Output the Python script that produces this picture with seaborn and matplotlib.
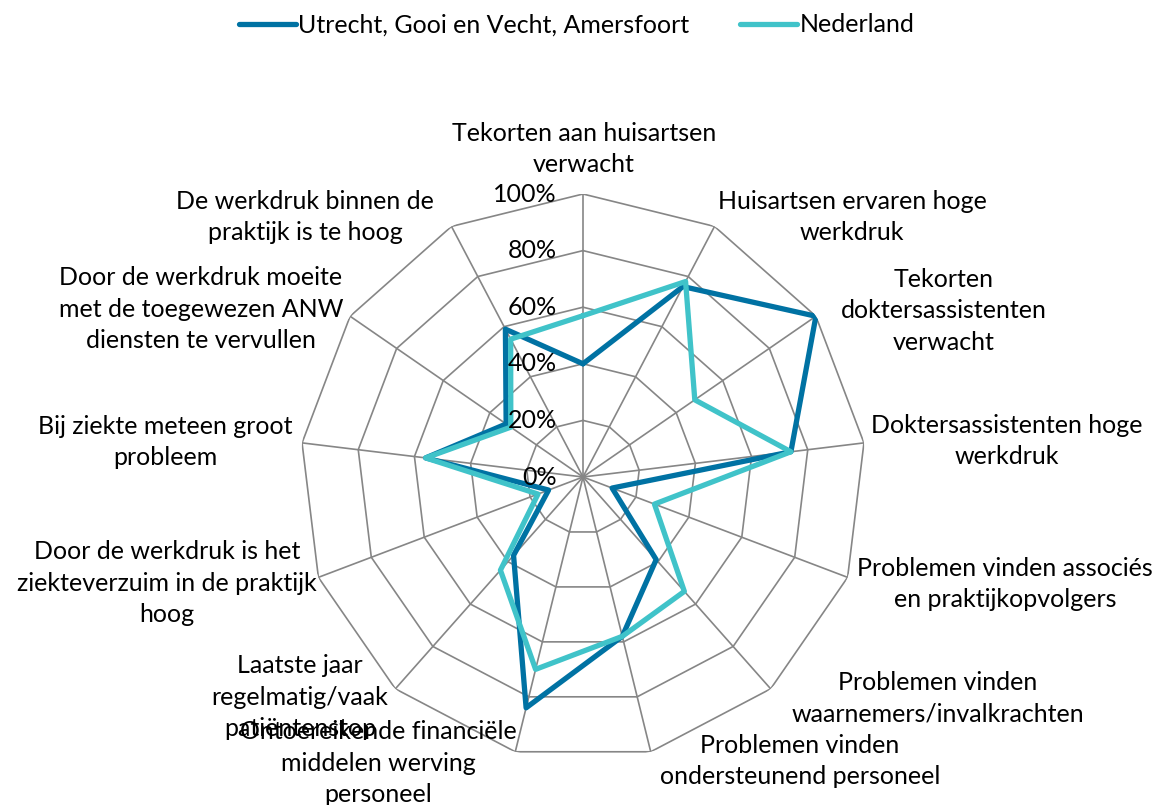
import numpy as np
import pandas as pd
import matplotlib
matplotlib.use("Agg")
import matplotlib.pyplot as plt
import matplotlib.transforms as mtransforms
import seaborn as sns

categories = [
    "Tekorten aan huisartsen\nverwacht",
    "Huisartsen ervaren hoge\nwerkdruk",
    "Tekorten\ndoktersassistenten\nverwacht",
    "Doktersassistenten hoge\nwerkdruk",
    "Problemen vinden associés\nen praktijkopvolgers",
    "Problemen vinden\nwaarnemers/invalkrachten",
    "Problemen vinden\nondersteunend personeel",
    "Ontoereikende financiële\nmiddelen werving\npersoneel",
    "Laatste jaar\nregelmatig/vaak\npatiëntenstop",
    "Door de werkdruk is het\nziekteverzuim in de praktijk\nhoog",
    "Bij ziekte meteen groot\nprobleem",
    "Door de werkdruk moeite\nmet de toegewezen ANW\ndiensten te vervullen",
    "De werkdruk binnen de\npraktijk is te hoog",
]
utrecht = [40, 76, 100, 74, 11, 39, 58, 84, 37, 13, 56, 33, 59]
nederland = [57, 78, 48, 74, 27, 54, 58, 70, 44, 17, 56, 31, 55]
series_names = ["Utrecht, Gooi en Vecht, Amersfoort", "Nederland"]
ticks = [0, 20, 40, 60, 80, 100]
tick_labels = ["0%", "20%", "40%", "60%", "80%", "100%"]

colors = ["#0072A3", "#40C3C9"]
W, H = 1153, 805

# label anchor points in pixels (x, y from top)
label_pos = [(584, 149), (852, 217), (944, 311), (1007, 441), (1005, 584),
             (938, 698), (800, 761), (378, 763), (300, 697), (167, 583),
             (165, 442), (201, 309), (305, 217)]

n = len(categories)
angles = np.linspace(0, 2 * np.pi, n, endpoint=False)

rows = []
for name, vals in zip(series_names, [utrecht, nederland]):
    for a, v in zip(list(angles) + [angles[0]], vals + [vals[0]]):
        rows.append({"angle": a, "value": v, "series": name})
df = pd.DataFrame(rows)

sns.set_style("white")
plt.rcParams["font.family"] = ["Lato", "DejaVu Sans"]
plt.rcParams["text.color"] = "black"

fig = plt.figure(figsize=(W / 100, H / 100), dpi=100)
cx, cy, R = 583, 477, 283
ax = fig.add_axes([(cx - R) / W, (H - cy - R) / H, 2 * R / W, 2 * R / H], projection="polar")
ax.set_theta_zero_location("N")
ax.set_theta_direction(-1)
ax.set_ylim(0, 100)
ax.grid(False)
ax.spines["polar"].set_visible(False)
ax.set_xticks([])
ax.set_yticks([])
ax.patch.set_alpha(0)

grid_color = "#868686"
closed = np.append(angles, angles[0])
for t in ticks[1:]:
    ax.plot(closed, [t] * (n + 1), color=grid_color, lw=1.2, zorder=1)
for a in angles:
    ax.plot([a, a], [0, 100], color=grid_color, lw=1.2, zorder=1)

sns.lineplot(data=df, x="angle", y="value", hue="series", sort=False,
             palette=colors, linewidth=3.8, ax=ax, zorder=3, estimator=None)
ax.set_xlabel("")
ax.set_ylabel("")

off = mtransforms.offset_copy(ax.transData, fig=fig, x=-26, y=0, units="dots")
for t, lab in zip(ticks, tick_labels):
    ax.text(0, t, lab, transform=off, ha="right", va="center", fontsize=18, zorder=5)

for lab, (px, py) in zip(categories, label_pos):
    fig.text(px / W, 1 - py / H, lab, ha="center", va="center", fontsize=18,
             linespacing=1.45, multialignment="center")

handles, labels = ax.get_legend_handles_labels()
ax.get_legend().remove()
fig.legend(handles, labels, loc="center", bbox_to_anchor=(0.5, 1 - 25 / H), ncol=2,
           frameon=False, fontsize=18, handlelength=2.3, handletextpad=0.1,
           columnspacing=2.0)

fig.savefig("out.png", dpi=100)
